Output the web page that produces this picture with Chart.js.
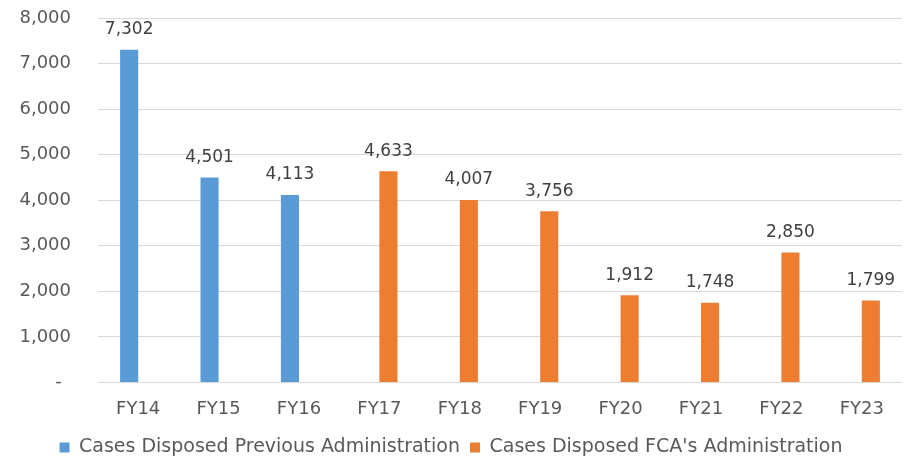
<!DOCTYPE html>
<html>
<head>
<meta charset="utf-8">
<script src="https://cdn.jsdelivr.net/npm/chart.js@4/dist/chart.umd.min.js"></script>
<style>
  html, body { margin: 0; padding: 0; background: #ffffff; }
  #wrap { width: 908px; height: 457px; position: relative; }
</style>
</head>
<body>
<div id="wrap"><canvas id="c" width="908" height="457"></canvas></div>
<script>
// Fiscal years shown along the x axis
const fiscalYears = ['FY14', 'FY15', 'FY16', 'FY17', 'FY18', 'FY19', 'FY20', 'FY21', 'FY22', 'FY23'];

// Cases disposed per year, split by administration
const previousAdmin = [7302, 4501, 4113, null, null, null, null, null, null, null];
const fcaAdmin      = [null, null, null, 4633, 4007, 3756, 1912, 1748, 2850, 1799];

// Y axis range and step
const yMax = 8000;
const yStep = 1000;

const seriesNames = ['Cases Disposed Previous Administration', "Cases Disposed FCA's Administration"];

const fontFamily = '"DejaVu Sans", Verdana, sans-serif';
const fmt = v => v.toLocaleString('en-US');

// Prints each bar's value above it
const valueLabels = {
  id: 'valueLabels',
  afterDatasetsDraw(chart) {
    const ctx = chart.ctx;
    ctx.save();
    ctx.font = '17px ' + fontFamily;
    ctx.fillStyle = '#404040';
    ctx.textAlign = 'center';
    ctx.textBaseline = 'middle';
    chart.data.datasets.forEach((ds, di) => {
      const meta = chart.getDatasetMeta(di);
      meta.data.forEach((bar, i) => {
        const v = ds.data[i];
        if (v === null || v === undefined) return;
        ctx.fillText(fmt(v), bar.x, bar.y - 20);
      });
    });
    ctx.restore();
  }
};

new Chart(document.getElementById('c'), {
  type: 'bar',
  data: {
    labels: fiscalYears,
    datasets: [
      { label: seriesNames[0], data: previousAdmin, backgroundColor: '#5B9BD5' },
      { label: seriesNames[1], data: fcaAdmin, backgroundColor: '#ED7D31' }
    ]
  },
  options: {
    responsive: false,
    animation: false,
    devicePixelRatio: 1,
    categoryPercentage: 0.45,
    barPercentage: 1.0,
    layout: { padding: { top: 18, right: 6, left: 0, bottom: -10 } },
    scales: {
      x: {
        grid: { display: false },
        border: { display: false },
        ticks: { color: '#595959', font: { family: fontFamily, size: 18 }, padding: 8 }
      },
      y: {
        min: 0,
        max: yMax,
        afterFit(scale) { scale.width = 98; },
        grid: { color: '#D9D9D9', drawTicks: true, tickLength: 27, tickColor: 'rgba(0,0,0,0)', lineWidth: 1 },
        border: { display: false },
        ticks: {
          stepSize: yStep,
          padding: 0,
          color: '#595959',
          font: { family: fontFamily, size: 18 },
          callback: v => v === 0 ? '-\u00A0\u2009' : fmt(v)
        }
      }
    },
    plugins: {
      legend: {
        position: 'bottom',
        labels: {
          color: '#595959',
          font: { family: fontFamily, size: 19 },
          boxWidth: 10,
          boxHeight: 10,
          padding: 10
        }
      },
      tooltip: { enabled: false }
    }
  },
  plugins: [valueLabels]
});
</script>
</body>
</html>
